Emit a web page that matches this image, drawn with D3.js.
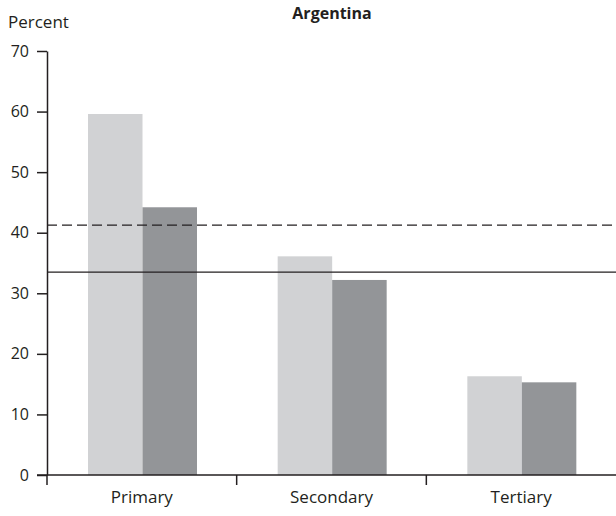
<!DOCTYPE html>
<html><head><meta charset="utf-8">
<script src="https://cdn.jsdelivr.net/npm/d3@7"></script>
<style>body{margin:0;background:#fff}text{font-family:"Open Sans","Noto Sans",sans-serif;fill:#231f20}</style>
</head><body><svg id="c" width="616" height="516"></svg>
<script>
const categories = ["Primary", "Secondary", "Tertiary"];
const seriesA = [59.6, 36.1, 16.3];
const seriesB = [44.2, 32.2, 15.3];
const yTicks = [0, 10, 20, 30, 40, 50, 60, 70];
const refDashed = 41.25;
const refSolid = 33.5;

const svg = d3.select("#c");
const x0 = 47, x1 = 616, yTop = 51, yBot = 475;
const x = d3.scaleBand().domain(categories).range([x0, x1]).paddingInner(0).paddingOuter(0);
const y = d3.scaleLinear().domain([0, 70]).range([yBot, yTop]);
const inner = d3.scaleBand().domain([0, 1]).range([41, 41 + 109]);

const data = categories.map((c, i) => ({c, v: [seriesA[i], seriesB[i]]}));
const colors = ["#d1d2d4", "#939598"];
const g = svg.selectAll("g.cat").data(data).join("g").attr("transform", d => `translate(${x(d.c)},0)`);
g.selectAll("rect").data(d => d.v).join("rect")
  .attr("x", (d, i) => inner(i)).attr("width", inner.bandwidth())
  .attr("y", d => y(d)).attr("height", d => y(0) - y(d))
  .attr("fill", (d, i) => colors[i]);

// reference lines
svg.append("line").attr("x1", x0).attr("x2", x1).attr("y1", y(refDashed)).attr("y2", y(refDashed))
  .attr("stroke", "#231f20").attr("stroke-width", 1.3).attr("stroke-dasharray", "10,5");
svg.append("line").attr("x1", x0).attr("x2", x1).attr("y1", y(refSolid)).attr("y2", y(refSolid))
  .attr("stroke", "#231f20").attr("stroke-width", 1.3);

// y axis
const ya = svg.append("g").attr("transform", `translate(${x0},0)`)
  .call(d3.axisLeft(y).tickValues(yTicks).tickSize(10).tickSizeOuter(0).tickPadding(8));
ya.select(".domain").attr("stroke", "#231f20").attr("stroke-width", 1.5);
ya.selectAll(".tick line").attr("stroke", "#231f20").attr("stroke-width", 1.5);
ya.selectAll(".tick text").style("font-size", "16px").attr("fill", "#231f20");

// x axis
const xa = svg.append("g").attr("transform", `translate(0,${yBot})`)
  .call(d3.axisBottom(x).tickSize(0).tickPadding(16));
xa.select(".domain").remove();
xa.append("line").attr("x1", 37).attr("x2", x1).attr("stroke", "#231f20").attr("stroke-width", 1.5);
xa.selectAll(".tick text").style("font-size", "17px").attr("fill", "#231f20");
const bounds = [x0, x0 + x.step(), x0 + 2 * x.step()];
xa.selectAll("line.sep").data(bounds).join("line").attr("class", "sep")
  .attr("x1", d => d).attr("x2", d => d).attr("y1", 0).attr("y2", 10)
  .attr("stroke", "#231f20").attr("stroke-width", 1.5);

svg.append("text").attr("x", 8).attr("y", 28).style("font-size", "17px").text("Percent");
svg.append("text").attr("x", 332).attr("y", 19).attr("text-anchor", "middle")
  .style("font-size", "16px").style("font-weight", "bold").text("Argentina");
</script></body></html>
